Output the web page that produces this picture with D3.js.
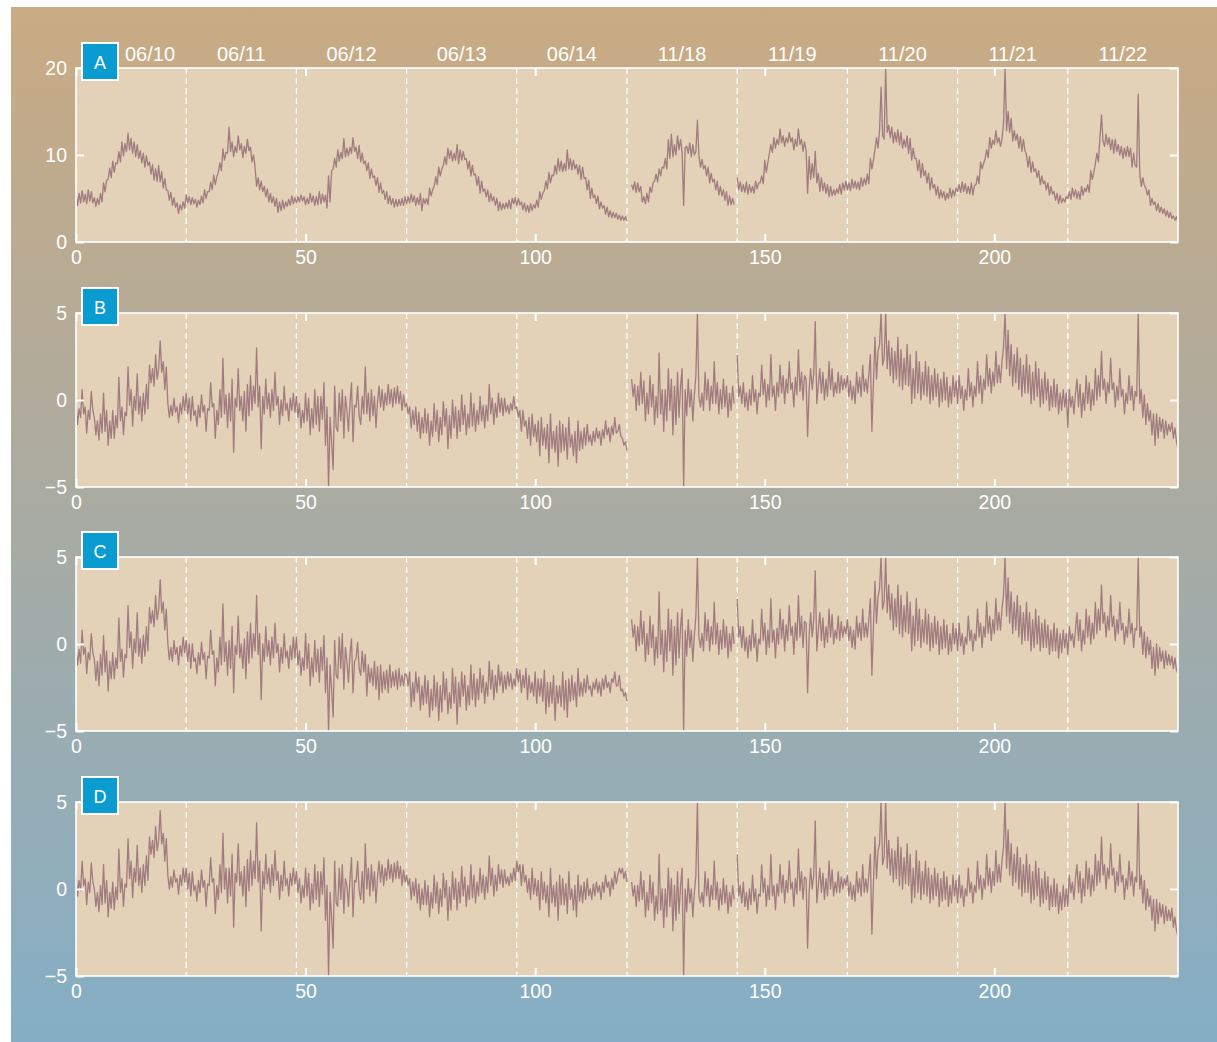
<!DOCTYPE html>
<html>
<head>
<meta charset="utf-8">
<script src="https://cdn.jsdelivr.net/npm/d3@7"></script>
<style>
  html, body { margin: 0; padding: 0; background: #ffffff; }
  svg { display: block; font-family: "Liberation Sans", Arial, Helvetica, sans-serif; }
</style>
</head>
<body>
<svg id="chart" width="1217" height="1042"></svg>
<script>
// Three samples per hour; null marks a break in the record.
const samplesPerHour = 3;

const dayLabels = ["06/10", "06/11", "06/12", "06/13", "06/14", "11/18", "11/19", "11/20", "11/21", "11/22"];
const dayBoundaries = [24, 48, 72, 96, 120, 144, 168, 192, 216];
const xTicks = [0, 50, 100, 150, 200];
const panelLetters = ["A", "B", "C", "D"];
const yTicksA = [0, 10, 20];
const yTicksResidual = [-5, 0, 5];

// Panel A: measured series (one line per day)
const seriesA = [
  5.4,4.2,5.6, 4.5,5.9,4.6, 5.5,4.4,6.0, 4.7,5.8,4.5, 5.1,4.1,5.0, 4.3,5.6,4.6, 6.8,5.8,7.1, 7.2,8.5,7.4, 9.3,8.0,9.1, 9.0,10.4,9.2, 11.5,9.9,11.3, 10.4,12.5,10.6, 11.9,10.2,11.5, 9.8,11.2,9.6, 10.5,9.1,10.2, 8.6,9.9,8.8, 9.2,7.8,8.9, 7.1,8.4,7.0, 8.8,6.9,8.1, 6.2,7.3,6.0, 5.9,4.8,5.7, 4.2,5.1,4.0, 4.5,3.3,4.3, 3.7,4.6,3.9,
  5.4,4.5,5.2, 4.3,5.1,4.4, 4.9,4.0,4.8, 4.3,5.3,4.5, 6.0,5.0,5.8, 5.8,6.9,6.0, 7.7,6.6,7.5, 8.0,9.1,8.2, 10.7,9.4,10.3, 10.2,13.2,10.4, 11.5,9.8,11.0, 10.3,12.2,10.6, 11.3,9.7,11.0, 10.2,11.8,10.5, 10.9,9.2,10.0, 8.6,6.4,7.4, 6.0,7.0,5.8, 6.4,5.2,6.1, 4.6,5.6,4.5, 5.2,4.1,5.0, 3.4,4.6,3.6, 4.8,3.8,4.6, 4.1,4.9,4.2, 5.3,4.4,5.1,
  4.5,5.2,4.6, 5.4,4.7,5.2, 4.3,5.0,4.4, 5.6,4.6,5.3, 4.2,5.2,4.3, 5.8,4.4,5.5, 4.6,5.4,3.9, 7.6,4.6,8.2, 8.4,9.6,8.6, 10.6,9.3,10.3, 9.6,11.9,9.8, 10.8,9.9,10.9, 10.2,12.0,10.4, 10.9,9.6,11.1, 9.2,10.2,9.0, 9.3,8.2,9.1, 7.3,8.4,7.4, 7.6,6.5,7.4, 5.7,6.8,5.6, 5.9,4.9,5.8, 4.4,5.3,4.3, 5.0,4.0,4.9, 4.1,4.9,4.2, 5.0,4.2,5.2,
  4.4,5.2,4.5, 5.5,4.6,5.3, 4.2,5.1,4.3, 5.6,3.6,5.0, 4.4,5.0,4.3, 6.2,5.3,6.0, 6.4,7.5,6.6, 8.6,7.6,8.4, 8.8,9.8,8.9, 10.8,9.6,10.5, 9.3,10.2,9.4, 11.2,9.0,10.6, 9.4,10.4,9.5, 9.6,8.4,9.3, 7.6,8.8,7.7, 7.8,6.5,7.5, 5.6,7.0,5.8, 6.1,5.2,6.0, 4.6,5.6,4.7, 5.2,4.2,5.0, 3.6,4.6,3.7, 4.4,3.8,4.5, 3.9,4.8,3.8, 5.0,4.4,5.1,
  4.2,5.0,4.3, 4.6,3.7,4.5, 3.5,4.2,3.4, 4.4,3.6,4.3, 3.9,4.8,4.0, 5.8,4.9,5.6, 5.9,7.0,6.1, 8.0,6.8,7.7, 7.6,8.8,7.8, 9.6,8.2,9.3, 8.1,9.0,8.2, 10.6,8.4,9.6, 8.3,9.4,8.4, 8.9,7.8,8.8, 7.2,8.6,7.3, 7.4,6.0,7.1, 5.0,6.2,5.1, 5.4,4.4,5.3, 3.8,4.6,3.9, 4.2,3.2,4.0, 2.9,3.6,2.8, 3.4,2.8,3.3, 2.6,3.1,2.5, 3.0,2.5,2.9,
  2.4,null,null, 6.6,6.0,6.9, 5.7,6.8,5.8, 6.4,4.6,5.2, 4.4,5.6,4.6, 6.3,5.7,6.8, 7.0,7.8,6.9, 8.4,7.6,8.6, 8.5,9.6,8.4, 11.8,9.6,12.4, 9.8,11.2,10.0, 12.2,10.6,11.8, 10.3,4.2,10.8, 11.0,10.2,11.4, 9.8,11.2,10.0, 10.4,14.0,9.9, 8.6,9.5,8.4, 8.8,7.6,8.6, 6.8,7.9,6.9, 7.2,6.0,7.0, 5.4,6.4,5.3, 6.0,4.8,5.8, 4.2,5.3,4.3, 5.0,4.3,null,
  7.4,6.0,6.9, 5.8,6.6,5.7, 6.9,5.5,6.6, 5.7,6.4,5.6, 7.0,6.1,6.8, 6.8,7.6,6.7, 9.4,8.0,9.1, 10.2,11.2,10.3, 12.0,10.8,11.8, 11.2,13.0,11.4, 12.2,11.0,12.0, 11.4,12.6,11.5, 12.0,10.6,11.8, 11.0,13.0,11.2, 11.8,10.4,11.5, 10.6,5.6,9.8, 7.2,9.0,7.4, 10.4,6.8,7.9, 5.8,7.4,5.9, 6.8,5.6,6.6, 5.2,6.4,5.3, 6.0,5.4,6.1, 5.6,6.6,5.5, 6.8,6.0,7.0,
  6.0,6.8,5.9, 7.2,6.2,7.0, 6.1,6.9,6.0, 7.4,6.4,7.3, 6.6,7.8,6.7, 9.6,8.4,9.4, 10.6,12.0,10.8, 12.8,17.8,12.2, 11.8,20.0,12.6, 13.4,12.0,13.2, 11.4,12.6,11.5, 12.9,11.2,12.6, 10.8,11.8,10.9, 12.2,10.2,11.9, 9.4,10.8,9.6, 9.6,8.2,9.4, 7.4,9.0,7.6, 8.2,6.8,7.9, 6.0,7.4,6.2, 6.6,5.4,6.4, 5.0,6.0,5.1, 5.8,4.8,5.6, 5.0,6.2,5.1, 6.0,5.3,6.2,
  5.8,6.6,5.7, 6.9,5.8,6.7, 5.6,6.4,5.5, 6.8,5.4,6.5, 6.6,7.6,6.7, 9.2,8.4,9.0, 9.6,10.6,9.7, 12.0,10.8,11.7, 11.2,12.8,11.4, 12.0,11.0,11.8, 13.6,20.0,12.8, 15.0,12.6,14.2, 11.6,12.8,11.7, 12.4,10.8,12.1, 10.4,11.8,10.5, 10.0,8.6,9.8, 8.0,9.2,8.1, 8.4,7.4,8.2, 6.6,7.6,6.7, 7.0,6.0,6.8, 5.4,6.4,5.5, 5.8,4.8,5.6, 4.4,5.4,4.5, 5.0,4.6,5.2,
  5.0,5.8,4.9, 6.2,5.2,6.0, 5.0,5.8,4.9, 6.4,5.4,6.2, 5.8,6.6,5.7, 8.2,7.2,8.0, 9.0,10.2,9.2, 12.0,14.6,11.6, 11.0,12.4,11.2, 12.0,10.6,11.8, 10.2,11.8,10.4, 11.2,10.0,11.0, 9.6,10.8,9.8, 11.0,9.8,10.8, 8.6,10.2,8.8, 8.6,17.0,8.0, 6.4,7.4,6.5, 6.2,5.4,6.0, 4.2,5.0,4.3, 4.6,3.6,4.4, 3.4,4.0,3.3, 3.8,3.0,3.6, 2.8,3.4,2.7, 3.0,2.5,2.9,
  2.3
];

// Panel B
const seriesB = [
  -0.2,-1.4,-0.5, -1.0,0.6,-0.8, -0.4,-1.9,-0.6, -1.1,0.5,-0.6, -1.0,-2.0,-1.2, -2.3,-0.8,-1.9, 0.4,-1.8,-0.6, -2.6,-1.2,-2.2, -0.6,-2.2,-0.9, -1.6,1.3,-1.2, -0.4,-2.0,-0.7, -0.9,1.9,-0.3, 0.6,-1.5,0.2, -0.6,1.5,-0.8, 0.2,-1.2,0.4, -0.8,0.9,-0.5, 2.0,1.0,1.8, 0.8,2.6,1.2, 1.8,3.4,1.6, 2.2,0.6,1.9, -0.2,-1.0,-0.3, -0.9,0.1,-0.7, -0.4,-1.3,-0.2, -0.8,0.2,-0.6,
  0.4,-0.8,0.1, -1.2,0.2,-0.9, -0.6,-1.5,-0.3, -1.0,0.3,-0.7, -0.3,-1.8,-0.5, -0.6,1.0,-0.4, -0.2,-2.2,-0.6, -1.4,0.6,-1.0, 2.4,-0.8,0.3, -1.6,0.4,-1.2, 1.2,-3.0,0.1, -0.4,1.8,-0.6, 0.2,-1.2,0.5, -1.8,0.9,-0.9, 1.4,-0.6,0.8, -0.2,3.0,-0.4, 0.8,-2.8,0.2, -0.8,1.2,-0.5, 0.4,-1.0,0.6, -0.6,1.6,-0.3, 0.2,-1.4,0.0, -0.9,0.8,-0.6, -0.2,-1.2,0.1, -0.6,0.4,-0.7,
  0.2,-1.0,-0.2, -1.6,-0.6,-1.3, 0.4,-1.2,0.1, -2.0,-0.5,-1.6, 0.6,-1.4,0.2, -1.8,0.2,-1.1, 1.0,-2.6,-0.4, -5.0,-1.0,-2.4, -4.0,0.8,-1.6, -1.8,0.4,-1.2, 0.6,-2.2,0.2, -0.6,-1.8,-0.2, 1.0,-2.4,-0.3, -0.4,0.8,-0.9, -1.4,0.2,-0.8, 1.9,-0.8,0.4, -1.2,0.6,-0.9, 0.2,-1.6,-0.1, 0.8,-0.4,0.6, -0.6,0.4,-0.3, 0.9,-0.2,0.6, -0.4,0.7,-0.2, 0.8,-0.2,0.5, -0.6,0.3,-0.4,
  -0.2,-0.8,-0.4, -1.6,-0.6,-1.4, -0.4,-1.8,-0.7, -2.2,-1.0,-1.9, -0.5,-1.9,-0.8, -2.6,-1.2,-2.1, -0.2,-1.8,-0.6, -2.4,-1.0,-2.0, -0.1,-1.5,-0.5, -2.8,-0.9,-2.2, 0.0,-1.6,-0.4, -2.2,-0.6,-1.8, 0.3,-1.4,-0.3, -2.0,-0.8,-1.6, 0.4,-1.5,-0.2, -1.8,-0.6,-1.4, 0.2,-1.2,-0.3, -1.6,-0.3,-1.2, 0.9,-0.8,0.1, -1.4,-0.2,-1.0, 0.4,-0.7,0.1, -0.9,0.1,-0.7, -0.3,-0.8,-0.2, -0.6,0.2,-0.5,
  -0.4,-1.0,-0.6, -1.8,-0.6,-1.5, -1.2,-2.2,-1.0, -2.6,-0.8,-2.1, -1.4,-2.4,-1.2, -3.2,-1.0,-2.6, -1.6,-2.8,-1.4, -3.6,-0.8,-2.8, -1.8,-3.0,-1.5, -3.8,-1.2,-3.0, -1.4,-2.9,-1.6, -3.4,-1.0,-2.7, -2.0,-3.2,-1.8, -3.6,-1.2,-2.9, -1.8,-2.8,-1.6, -2.6,-1.4,-2.4, -2.0,-2.6,-1.8, -2.4,-1.6,-2.2, -1.8,-2.6,-1.7, -2.2,-1.2,-2.0, -1.6,-2.4,-1.5, -2.0,-1.0,-1.9, -1.8,-1.4,-2.1, -2.2,-2.6,-2.4,
  -2.9,null,null, 1.2,0.2,0.9, -0.6,0.8,-0.3, 1.6,-0.2,1.1, -1.2,0.4,-0.8, 1.4,-0.4,0.9, -1.4,0.2,-1.0, 2.7,-0.8,0.6, -1.8,0.6,-1.2, 1.8,-0.6,1.2, -2.0,0.8,-1.4, 1.6,-1.0,0.8, 1.8,-5.0,0.6, -0.9,1.2,-0.4, 0.6,-1.2,0.3, 1.4,5.0,0.2, -0.4,0.4,-0.6, 1.6,0.0,1.2, -0.6,0.8,-0.2, 2.2,-0.2,1.0, -0.8,0.6,-0.5, 1.2,-0.4,0.8, -1.0,0.4,-0.6, 0.8,-0.2,null,
  2.6,0.2,0.8, -0.2,1.0,-0.4, 0.4,-0.6,0.6, -0.3,1.4,-0.1, 0.6,-0.8,0.4, 0.2,2.0,0.3, 1.2,-0.4,0.9, 0.0,2.6,0.2, 0.8,-0.6,1.0, 0.2,2.0,0.4, 1.4,-0.2,1.2, 0.4,2.2,0.6, 1.0,-0.4,1.3, 0.3,2.9,0.5, 1.6,0.0,1.4, 1.2,-2.1,0.6, 1.8,0.6,1.5, 4.5,-0.2,0.9, 1.8,0.4,1.6, 0.0,1.2,0.2, 2.2,0.6,1.8, 0.2,1.0,0.4, 1.6,0.4,1.4, 0.6,1.2,0.7,
  1.4,0.2,1.1, 0.0,0.8,-0.2, 1.6,0.4,1.3, 0.2,2.0,0.5, 1.2,0.4,1.5, 2.6,-1.8,1.0, 3.6,1.2,2.8, 3.2,5.0,2.0, 2.4,5.0,1.8, 3.4,1.4,3.0, 1.0,2.8,1.2, 3.6,0.8,2.9, 0.6,2.4,0.9, 3.2,0.8,2.6, -0.2,1.8,0.1, 2.8,0.4,2.2, 0.0,1.6,0.3, 2.2,0.2,1.9, -0.2,1.4,0.0, 1.8,0.2,1.5, -0.4,1.2,-0.1, 1.6,0.0,1.3, -0.4,0.8,-0.2, 1.4,0.2,1.1,
  -0.2,1.4,0.1, 0.8,-0.6,0.6, 0.0,1.8,0.2, 1.0,-0.4,0.8, 0.2,2.2,0.4, 1.4,-0.2,1.2, 0.6,2.6,0.8, 1.8,0.4,1.6, 0.8,2.8,1.0, 2.0,1.0,2.2, 3.0,5.0,1.8, 4.0,1.4,3.2, 0.8,2.6,1.0, 3.0,0.6,2.4, 0.2,2.0,0.4, 2.6,0.4,2.0, -0.2,1.6,0.0, 2.2,0.2,1.8, -0.4,1.2,-0.2, 1.6,0.0,1.2, -0.6,0.8,-0.4, 1.2,-0.4,0.9, -0.8,0.4,-0.6, 0.6,-0.4,0.4,
  -1.6,0.6,-0.4, 0.2,-0.8,0.4, 1.2,-0.4,0.9, -1.0,0.4,-0.6, 1.4,-0.2,1.0, -0.6,0.6,-0.3, 1.8,0.0,1.4, 0.2,2.8,0.6, 1.2,-0.2,1.0, 0.4,2.4,0.6, 1.0,-0.4,0.8, 0.0,1.8,0.2, 0.6,-0.8,0.4, -0.2,1.4,0.0, 0.8,-0.6,0.5, 0.2,5.0,-0.2, 0.6,-1.0,0.3, -1.4,-0.2,-1.2, -0.6,-2.0,-0.8, -2.6,-0.8,-2.2, -1.0,-1.8,-1.1, -2.2,-1.2,-2.0, -1.4,-1.8,-1.3, -2.2,-1.6,-2.4,
  -2.8
];

// Panel C
const seriesC = [
  -0.4,-1.2,-0.3, -1.1,0.8,-0.6, -0.2,-1.7,-0.5, -0.9,0.6,-0.5, -0.9,-2.1,-1.0, -2.4,-0.6,-1.8, 0.5,-1.6,-0.4, -2.7,-1.0,-2.0, -0.5,-2.0,-0.8, -1.4,1.5,-1.0, -0.3,-1.9,-0.6, -0.8,2.2,-0.2, 0.7,-1.4,0.3, -0.5,1.8,-0.7, 0.3,-1.1,0.5, -0.7,1.0,-0.4, 2.1,1.2,1.9, 1.0,2.8,1.4, 2.0,3.7,1.8, 2.4,0.8,2.0, 0.0,-0.9,-0.2, -1.0,0.2,-0.6, -0.2,-1.2,-0.1, -0.7,0.4,-0.5,
  0.2,-1.0,0.0, -1.4,0.0,-1.0, -0.8,-1.7,-0.5, -1.2,0.1,-0.9, -0.5,-2.0,-0.7, -0.8,0.8,-0.6, -0.4,-2.4,-0.8, -1.6,0.4,-1.2, 2.3,-1.0,0.1, -1.8,0.2,-1.4, 1.0,-2.8,-0.1, -0.6,1.6,-0.8, 0.0,-1.4,0.3, -2.0,0.7,-1.1, 1.2,-0.8,0.6, -0.4,2.8,-0.6, 0.6,-3.2,0.0, -1.0,1.0,-0.7, 0.2,-1.2,0.4, -0.8,1.2,-0.5, 0.0,-1.6,-0.2, -1.1,0.6,-0.8, -0.4,-1.4,-0.1, -0.9,0.4,-0.8,
  0.4,-1.2,-0.4, -1.8,-0.8,-1.5, 0.6,-1.4,0.0, -2.4,-0.8,-1.9, 0.2,-1.6,-0.3, -2.2,-0.2,-1.5, 0.5,-2.8,-0.8, -5.0,-1.2,-2.6, -4.2,0.2,-1.8, -2.0,0.4,-1.4, 0.6,-2.6,-0.2, -1.0,-2.2,-0.6, 0.3,-2.8,-1.0, -0.8,0.1,-1.4, -1.8,-0.4,-1.6, -0.6,-3.0,-1.2, -2.2,-1.4,-2.4, -1.0,-2.6,-1.3, -3.2,-1.2,-2.8, -1.6,-2.6,-1.5, -2.8,-1.2,-2.5, -1.6,-2.4,-1.5, -2.6,-1.4,-2.4, -1.8,-2.4,-1.7,
  -1.8,-2.4,-1.6, -3.6,-2.2,-3.3, -1.6,-2.8,-1.9, -3.8,-2.4,-3.5, -1.8,-3.4,-2.1, -4.2,-2.6,-3.8, -1.8,-3.6,-2.2, -4.4,-2.4,-3.9, -1.6,-3.2,-2.0, -4.0,-2.8,-3.7, -1.4,-3.4,-1.9, -4.6,-2.2,-3.6, -1.6,-3.0,-1.8, -3.8,-2.4,-3.5, -1.2,-3.2,-1.7, -3.6,-2.0,-3.2, -1.4,-2.8,-1.8, -3.4,-2.2,-3.0, -1.0,-2.6,-1.5, -3.2,-1.8,-2.8, -1.2,-2.4,-1.6, -2.8,-1.8,-2.6, -1.6,-2.4,-1.7, -2.6,-2.0,-2.4,
  -1.4,-2.2,-1.5, -2.8,-1.8,-2.5, -1.4,-3.2,-1.8, -2.8,-2.2,-3.0, -1.6,-3.4,-2.0, -3.0,-2.0,-3.3, -1.5,-4.0,-2.2, -3.6,-2.2,-3.4, -1.8,-4.4,-2.4, -3.4,-2.4,-3.6, -1.6,-3.8,-2.1, -4.2,-2.0,-3.3, -1.8,-3.2,-2.2, -3.6,-1.4,-3.0, -2.2,-3.0,-2.0, -2.8,-1.8,-2.6, -2.4,-3.0,-2.2, -2.6,-2.0,-2.8, -2.2,-3.0,-2.0, -2.6,-1.8,-2.5, -2.2,-2.8,-2.0, -2.2,-1.6,-2.4, -2.4,-1.8,-2.7, -2.6,-3.0,-2.8,
  -3.3,null,null, 1.4,0.4,1.1, -0.4,1.0,-0.1, 1.9,0.0,1.3, -1.0,0.6,-0.6, 1.6,-0.2,1.1, -1.2,0.4,-0.8, 3.0,-0.6,0.8, -1.6,0.8,-1.0, 2.0,-0.4,1.4, -1.8,1.0,-1.2, 1.8,-0.8,1.0, 2.0,-5.0,0.8, -0.7,1.4,-0.2, 0.8,-1.0,0.5, 1.6,5.0,0.4, -0.2,0.6,-0.4, 1.8,0.2,1.4, -0.4,1.0,0.0, 2.4,0.0,1.2, -0.6,0.8,-0.3, 1.4,-0.2,1.0, -0.8,0.6,-0.4, 1.0,0.0,null,
  2.6,0.4,1.0, -0.2,1.0,-0.4, 0.4,-0.8,0.5, -0.4,1.4,-0.2, 0.6,-1.0,0.3, 0.0,2.0,0.2, 1.2,-0.6,0.8, -0.2,2.6,0.1, 0.8,-0.8,0.9, 0.0,2.0,0.3, 1.4,-0.4,1.1, 0.2,2.2,0.5, 1.0,-0.6,1.2, 0.2,2.8,0.4, 1.6,-0.2,1.3, 1.2,-2.8,0.5, 1.8,0.4,1.4, 4.2,-0.4,0.8, 1.8,0.2,1.5, -0.2,1.0,0.1, 2.0,0.4,1.7, 0.0,0.8,0.3, 1.6,0.2,1.3, 0.4,1.0,0.6,
  1.4,0.2,1.0, -0.2,0.8,-0.3, 1.6,0.4,1.2, 0.2,2.0,0.4, 1.2,0.4,1.4, 2.6,-1.8,0.9, 3.6,1.2,2.7, 3.2,5.0,2.0, 2.4,5.0,1.8, 3.4,1.4,2.9, 0.8,2.6,1.0, 3.4,0.6,2.8, 0.4,2.2,0.7, 3.0,0.6,2.4, -0.4,1.6,-0.1, 2.6,0.2,2.0, -0.2,1.4,0.1, 2.0,0.0,1.7, -0.4,1.2,-0.2, 1.6,0.0,1.3, -0.6,1.0,-0.3, 1.4,-0.2,1.1, -0.6,0.6,-0.4, 1.2,0.0,0.9,
  -0.4,1.2,-0.1, 0.6,-0.6,0.4, 0.0,1.6,0.2, 0.8,-0.4,0.6, 0.2,2.0,0.4, 1.2,-0.2,1.0, 0.4,2.4,0.6, 1.6,0.2,1.4, 0.6,2.6,0.8, 1.8,0.8,2.0, 2.8,5.0,1.6, 3.8,1.2,3.0, 0.6,2.4,0.8, 2.8,0.4,2.2, 0.0,1.8,0.2, 2.4,0.2,1.8, -0.4,1.4,-0.2, 2.0,0.0,1.6, -0.4,1.2,-0.2, 1.4,-0.2,1.1, -0.6,0.8,-0.4, 1.2,-0.4,0.9, -0.8,0.6,-0.5, 0.8,-0.2,0.6,
  -0.6,1.0,0.2, 0.6,-0.2,0.8, 1.8,0.2,1.4, -0.4,0.8,0.0, 2.0,0.4,1.6, 0.0,1.2,0.3, 2.4,0.6,2.0, 0.8,3.4,1.2, 1.8,0.4,1.6, 0.8,2.8,1.0, 1.6,0.2,1.4, 0.6,2.4,0.8, 1.2,0.0,1.0, 0.4,2.0,0.6, 1.2,-0.2,0.9, 0.8,5.0,0.4, 1.0,-0.6,0.7, -0.8,0.4,-0.6, 0.2,-1.4,-0.2, -1.8,0.0,-1.4, -0.2,-1.0,-0.4, -1.4,-0.4,-1.2, -0.6,-1.2,-0.7, -1.4,-0.8,-1.5,
  -1.7
];

// Panel D
const seriesD = [
  0.8,-0.4,0.5, -0.1,1.6,0.2, 0.6,-0.9,0.4, -0.2,1.5,0.4, 0.0,-1.0,-0.2, -1.3,0.2,-0.9, 1.4,-0.8,0.5, -1.6,-0.2,-1.1, 0.4,-1.2,0.1, -0.6,2.3,-0.2, 0.6,-1.0,0.3, 0.1,2.9,0.6, 1.6,-0.5,1.2, 0.4,2.5,0.2, 1.2,-0.2,1.4, 0.2,1.9,0.5, 3.0,2.0,2.8, 1.8,3.6,2.2, 2.8,4.5,2.6, 3.2,1.6,2.9, 0.8,0.0,0.7, 0.1,1.1,0.4, 0.6,-0.3,0.8, 0.2,1.2,0.4,
  1.2,0.0,0.9, -0.4,1.0,-0.1, 0.2,-0.7,0.5, -0.2,1.1,0.1, 0.5,-1.0,0.3, 0.2,1.8,0.4, 0.6,-1.4,0.2, -0.6,1.4,-0.2, 3.2,0.0,1.2, -0.8,1.2,-0.4, 2.0,-2.2,0.9, 0.4,2.6,0.2, 1.0,-0.4,1.3, -1.0,1.7,-0.1, 2.2,0.2,1.6, 0.6,3.8,0.4, 1.6,-2.4,1.0, 0.0,2.0,0.3, 1.2,-0.2,1.4, 0.2,2.2,0.5, 1.0,-0.6,0.8, -0.1,1.6,0.2, 0.6,-0.4,0.9, 0.2,1.2,0.3,
  1.0,-0.2,0.6, -0.8,0.2,-0.5, 1.2,-0.4,0.9, -1.2,0.3,-0.8, 1.4,-0.6,1.0, -1.0,1.0,-0.3, 1.8,-1.8,0.2, -5.0,-0.2,-1.6, -3.4,1.6,-0.8, -1.0,1.2,-0.6, 1.4,-1.4,0.6, 0.2,-1.0,0.6, 1.8,-1.6,0.5, 0.4,1.6,-0.1, -0.6,1.0,-0.8, 2.6,0.0,1.2, -0.4,1.4,-0.1, 1.0,-0.8,0.7, 1.6,0.4,1.4, 0.2,1.2,0.5, 1.7,0.6,1.4, 0.4,1.5,0.6, 1.6,0.6,1.3, 0.2,1.1,0.4,
  0.8,0.2,0.6, -0.6,0.4,-0.4, 0.6,-0.8,0.3, -1.2,0.0,-0.9, 0.5,-0.9,0.2, -1.6,-0.2,-1.1, 0.8,-0.8,0.4, -1.4,0.0,-1.0, 0.9,-0.5,0.5, -1.8,0.1,-1.2, 1.0,-0.6,0.6, -1.2,0.4,-0.8, 1.3,-0.4,0.7, -1.0,0.2,-0.6, 1.4,-0.5,0.8, -0.8,0.4,-0.4, 1.2,-0.2,0.8, -0.6,0.7,-0.2, 1.9,0.2,1.2, -0.4,0.8,-0.1, 1.4,0.3,1.1, 0.1,1.1,0.3, 0.7,0.2,0.9, 0.4,1.2,0.5,
  1.6,1.0,1.4, 0.2,1.4,0.4, 0.8,-0.2,0.6, -0.6,1.2,-0.3, 0.6,-0.4,0.5, -1.2,1.0,-0.6, 0.4,-0.8,0.2, -1.6,1.2,-0.8, 0.2,-1.0,0.4, -1.8,0.8,-0.9, 0.6,-0.9,0.3, -1.4,1.0,-0.6, 0.0,-1.2,0.2, -1.6,0.8,-0.7, 0.2,-0.8,0.4, -0.6,0.6,-0.4, 0.0,-0.6,0.3, -0.4,0.4,-0.2, 0.2,-0.6,0.4, -0.2,0.8,0.1, 0.4,-0.4,0.6, 0.0,1.0,0.3, 0.8,1.2,0.9, 1.2,0.6,1.0,
  0.4,null,null, 0.4,-0.4,0.2, -1.0,0.2,-0.7, 1.0,-0.6,0.5, -1.6,-0.2,-1.2, 0.8,-0.8,0.4, -1.8,-0.4,-1.4, 2.0,-1.2,0.0, -2.2,0.0,-1.6, 1.2,-1.0,0.6, -2.4,0.2,-1.8, 1.0,-1.4,0.2, 1.2,-5.0,0.0, -1.3,0.6,-0.8, 0.0,-1.6,-0.2, 0.8,5.0,-0.4, -0.8,-0.2,-1.0, 1.0,-0.4,0.6, -1.0,0.2,-0.6, 1.6,-0.6,0.4, -1.2,0.0,-0.9, 0.6,-0.8,0.2, -1.4,-0.2,-1.0, 0.2,-0.6,null,
  2.0,-0.4,0.2, -0.8,0.4,-1.0, -0.2,-1.2,0.0, -0.9,0.8,-0.7, 0.0,-1.4,-0.3, -0.4,1.4,-0.2, 0.6,-1.0,0.2, -0.6,2.0,-0.4, 0.2,-1.2,0.3, -0.4,1.4,-0.2, 0.8,-0.8,0.5, -0.2,1.6,0.0, 0.4,-1.0,0.6, -0.3,2.3,-0.1, 1.0,-0.6,0.7, 0.6,-3.4,-0.2, 1.2,0.0,0.8, 3.9,-0.8,0.2, 1.2,-0.2,0.9, -0.6,0.6,-0.4, 1.6,0.0,1.1, -0.4,0.4,-0.2, 1.0,-0.2,0.7, 0.0,0.6,0.2,
  0.8,-0.4,0.4, -0.6,0.2,-0.7, 1.0,-0.2,0.6, -0.4,1.4,-0.2, 0.6,-0.2,0.8, 2.0,-2.6,0.3, 3.0,0.6,2.2, 2.6,5.0,1.4, 1.8,5.0,1.2, 2.8,0.8,2.3, 0.4,2.2,0.6, 3.0,0.2,2.4, 0.0,1.8,0.3, 2.6,0.2,2.0, -0.8,1.2,-0.5, 2.2,-0.2,1.6, -0.6,1.0,-0.3, 1.6,-0.4,1.2, -0.8,0.8,-0.6, 1.2,-0.4,0.9, -1.0,0.6,-0.7, 1.0,-0.6,0.7, -1.0,0.2,-0.8, 0.8,-0.4,0.5,
  -0.8,0.8,-0.5, 0.2,-1.0,0.0, -0.4,1.2,-0.2, 0.4,-0.8,0.2, -0.2,1.6,0.0, 0.8,-0.6,0.6, 0.0,2.0,0.2, 1.2,-0.2,1.0, 0.2,2.2,0.4, 1.4,0.4,1.6, 2.4,5.0,1.2, 3.4,0.8,2.6, 0.2,2.0,0.4, 2.4,0.0,1.8, -0.4,1.4,-0.2, 2.0,-0.2,1.4, -0.8,1.0,-0.6, 1.6,-0.4,1.2, -1.0,0.6,-0.8, 1.0,-0.6,0.7, -1.2,0.2,-1.0, 0.6,-1.0,0.3, -1.4,-0.2,-1.2, 0.2,-1.0,0.0,
  -1.0,0.8,-0.2, 0.4,-0.6,0.6, 1.4,-0.2,1.0, -0.8,0.6,-0.4, 1.6,0.0,1.2, -0.4,0.8,-0.1, 2.0,0.2,1.6, 0.4,3.0,0.8, 1.4,0.0,1.2, 0.6,2.6,0.8, 1.2,-0.2,1.0, 0.2,2.0,0.4, 0.8,-0.6,0.6, 0.0,1.6,0.2, 1.0,-0.4,0.7, 0.4,5.0,0.0, 0.8,-0.8,0.5, -1.2,0.0,-1.0, -0.4,-1.8,-0.6, -2.4,-0.6,-2.0, -0.8,-1.6,-0.9, -2.0,-1.0,-1.8, -1.2,-1.8,-1.1, -2.2,-1.6,-2.4,
  -2.7
];

// ---- layout ----
const W = 1217, H = 1042;
const plotLeft = 76, plotRight = 1178, plotH = 174;
const panelTops = [68, 313, 557, 802];
const lineColor = "#a07c7f";
const plotFill = "#e3d1b8";
const tickFont = 19.5;

const panels = [
  { letter: panelLetters[0], data: seriesA, domain: [0, 20], ticks: yTicksA },
  { letter: panelLetters[1], data: seriesB, domain: [-5, 5], ticks: yTicksResidual },
  { letter: panelLetters[2], data: seriesC, domain: [-5, 5], ticks: yTicksResidual },
  { letter: panelLetters[3], data: seriesD, domain: [-5, 5], ticks: yTicksResidual }
];

const svg = d3.select("#chart");
const defs = svg.append("defs");

const grad = defs.append("linearGradient")
  .attr("id", "bgGrad").attr("x1", 0).attr("y1", 0).attr("x2", 0).attr("y2", 1);
grad.append("stop").attr("offset", "0%").attr("stop-color", "#caab83");
grad.append("stop").attr("offset", "50%").attr("stop-color", "#a8aba3");
grad.append("stop").attr("offset", "100%").attr("stop-color", "#84aec6");

svg.append("rect")
  .attr("x", 11).attr("y", 7)
  .attr("width", W - 11).attr("height", H - 7)
  .attr("fill", "url(#bgGrad)");

const x = d3.scaleLinear().domain([0, 240]).range([plotLeft, plotRight]);

function styleAxis(g) {
  g.select(".domain").remove();
  g.selectAll(".tick line").attr("stroke", "#ffffff").attr("stroke-width", 2);
  g.selectAll(".tick text").attr("fill", "#ffffff").attr("font-size", tickFont);
}

panels.forEach((p, k) => {
  const top = panelTops[k];
  const bottom = top + plotH;
  const y = d3.scaleLinear().domain(p.domain).range([bottom, top]);
  const g = svg.append("g");

  // plot background
  g.append("rect")
    .attr("x", x(0)).attr("y", top)
    .attr("width", x(240) - x(0)).attr("height", plotH)
    .attr("fill", plotFill);

  defs.append("clipPath").attr("id", "clip" + k)
    .append("rect")
    .attr("x", x(0)).attr("y", top)
    .attr("width", x(240) - x(0)).attr("height", plotH);

  // day separators
  g.selectAll("line.day").data(dayBoundaries).join("line")
    .attr("class", "day")
    .attr("x1", d => x(d)).attr("x2", d => x(d))
    .attr("y1", top).attr("y2", bottom)
    .attr("stroke", "#ffffff").attr("stroke-width", 1.3)
    .attr("stroke-dasharray", "6,4");

  // series
  const line = d3.line()
    .defined(d => d != null)
    .x((d, i) => x(i / samplesPerHour))
    .y(d => y(d));

  g.append("path")
    .attr("clip-path", "url(#clip" + k + ")")
    .attr("d", line(p.data))
    .attr("fill", "none")
    .attr("stroke", lineColor)
    .attr("stroke-width", 1.3)
    .attr("stroke-linejoin", "round");

  // frame
  g.append("rect")
    .attr("x", x(0)).attr("y", top)
    .attr("width", x(240) - x(0)).attr("height", plotH)
    .attr("fill", "none").attr("stroke", "#ffffff").attr("stroke-width", 1.6);

  // axes with inward ticks
  g.append("g").attr("transform", `translate(0,${bottom})`)
    .call(d3.axisBottom(x).tickValues(xTicks).tickSize(-8).tickPadding(8))
    .call(styleAxis);
  g.append("g").attr("transform", `translate(0,${top})`)
    .call(d3.axisTop(x).tickValues(xTicks).tickSize(-8).tickFormat(""))
    .call(styleAxis);
  g.append("g").attr("transform", `translate(${x(0)},0)`)
    .call(d3.axisLeft(y).tickValues(p.ticks).tickSize(-8).tickPadding(9))
    .call(styleAxis);
  g.append("g").attr("transform", `translate(${x(240)},0)`)
    .call(d3.axisRight(y).tickValues(p.ticks).tickSize(-8).tickFormat(""))
    .call(styleAxis);

  // panel letter badge
  g.append("rect")
    .attr("x", 82).attr("y", top - 25)
    .attr("width", 36).attr("height", 37)
    .attr("fill", "#0a9bd0").attr("stroke", "#ffffff").attr("stroke-width", 2);
  g.append("text")
    .attr("x", 100).attr("y", top + 0.5)
    .attr("text-anchor", "middle")
    .attr("fill", "#ffffff").attr("font-size", 18)
    .text(p.letter);
});

// day labels above panel A
const badgeRight = 118;
svg.append("g").selectAll("text").data(dayLabels).join("text")
  .attr("y", 61)
  .attr("text-anchor", "middle")
  .attr("fill", "#ffffff").attr("font-size", 20)
  .text(d => d)
  .attr("x", function (d, i) {
    const cx = x(12 + 24 * i);
    const half = this.getComputedTextLength() / 2;
    return Math.max(cx, badgeRight + 7 + half);
  });
</script>
</body>
</html>
